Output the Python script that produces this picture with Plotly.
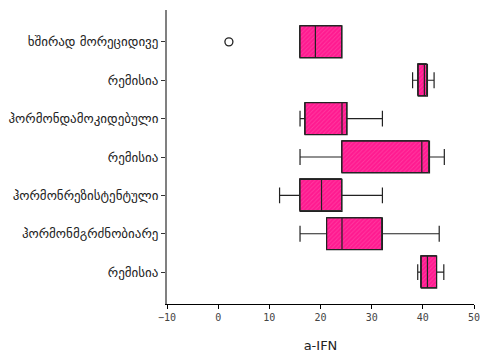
import plotly.graph_objects as go

# Groups, listed top to bottom
labels = [
    "ხშირად მორეციდივე",
    "რემისია",
    "ჰორმონდამოკიდებული",
    "რემისია",
    "ჰორმონრეზისტენტული",
    "ჰორმონმგრძნობიარე",
    "რემისია",
]
positions = list(range(len(labels)))

# Five-number summaries of α-IFN per group
lower = [16, 38, 16, 16, 12, 16, 39]
q1 = [16, 39.1, 17, 24.2, 16, 21.2, 39.7]
median = [19, 40.3, 24.2, 39.8, 20.2, 24.2, 40.9]
q3 = [24.2, 40.9, 25.2, 41.3, 24.2, 32.1, 42.7]
upper = [24.2, 42.2, 32.1, 44.2, 32.1, 43.2, 44.1]

# Outlying observation
outlier_x = [2.1]
outlier_y = [0]

BOX_W = 0.83
PINK = "#FF1A90"
HATCH = "#FF5CB0"
EDGE = "#333333"

fig = go.Figure()

# Hatched box bodies (interquartile range)
fig.add_trace(go.Bar(
    orientation="h",
    y=positions,
    x=[b - a for a, b in zip(q1, q3)],
    base=q1,
    width=BOX_W,
    marker=dict(
        color=PINK,
        line=dict(color=EDGE, width=1),
        pattern=dict(shape="/", fgcolor=HATCH, size=3, solidity=0.3, fillmode="overlay"),
    ),
    showlegend=False,
    hoverinfo="skip",
))

# Box outlines, medians and whiskers
fig.add_trace(go.Box(
    orientation="h",
    y=positions,
    q1=q1,
    median=median,
    q3=q3,
    lowerfence=lower,
    upperfence=upper,
    width=BOX_W,
    whiskerwidth=0.5,
    fillcolor="rgba(0,0,0,0)",
    line=dict(color="#222222", width=1.2),
    boxpoints=False,
    showlegend=False,
))

fig.add_trace(go.Scatter(
    x=outlier_x,
    y=outlier_y,
    mode="markers",
    marker=dict(symbol="circle-open", size=8, color="#222222", line=dict(width=1.3)),
    showlegend=False,
))

fig.update_layout(
    width=481,
    height=358,
    margin=dict(l=167, r=7, t=10, b=54),
    paper_bgcolor="white",
    plot_bgcolor="white",
    font=dict(family="DejaVu Sans", color="#222222"),
    bargap=0,
)

fig.update_xaxes(
    range=[-10, 50],
    automargin=False,
    tickmode="linear",
    tick0=-10,
    dtick=10,
    showgrid=False,
    zeroline=False,
    showline=True,
    linecolor="black",
    linewidth=1,
    ticks="outside",
    ticklen=4,
    tickcolor="black",
    tickfont=dict(family="DejaVu Sans Mono", size=10, color="#444444"),
    title=dict(text="a-IFN", font=dict(family="DejaVu Sans", size=13, color="#222222"), standoff=18),
)

fig.update_yaxes(
    range=[len(labels) - 1 + 0.83, -0.83],
    automargin=False,
    tickmode="array",
    tickvals=positions,
    ticktext=labels,
    showgrid=False,
    zeroline=False,
    showline=True,
    linecolor="#808080",
    linewidth=2,
    ticks="outside",
    ticklen=4,
    tickcolor="#333333",
    tickfont=dict(family="DejaVu Sans", size=13, color="#222222"),
)

fig.write_html("out.html")
